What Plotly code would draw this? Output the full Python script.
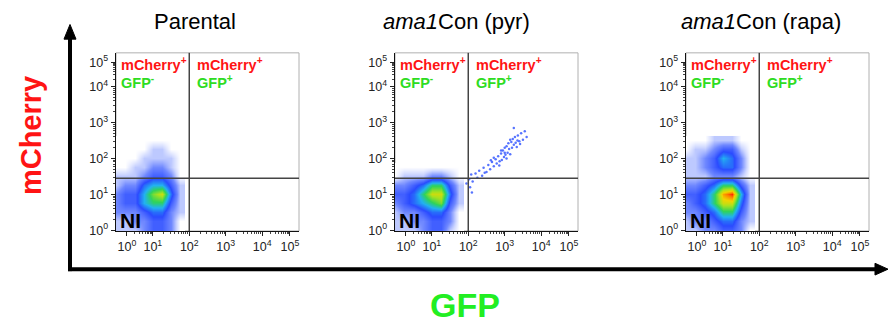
import math
import plotly.graph_objects as go

W, H = 888, 330

# ---------------- data (display units ~ log10 fluorescence) ----------------
panel_titles = ["Parental", "<i>ama1</i>Con (pyr)", "<i>ama1</i>Con (rapa)"]
tick_labels = ["10<sup>0</sup>", "10<sup>1</sup>", "10<sup>2</sup>",
               "10<sup>3</sup>", "10<sup>4</sup>", "10<sup>5</sup>"]
# positions of the decade labels on the (biexponential-like) display scale
gfp_tick_pos = [0.29, 1, 2, 3, 4, 4.76]
mch_tick_pos = [0.0, 1, 2, 3, 4, 4.68]

gfp_gate = 2.0        # 10^2
mcherry_gate = 1.45   # ~28

# density grid (bin centres)
grid_gfp = [0.0, 0.25, 0.5, 0.75, 1.0, 1.25, 1.5, 1.75]
grid_mch_parental = [0.0, 0.25, 0.5, 0.75, 1.0, 1.25, 1.5, 1.75, 2.0, 2.25, 2.5]
grid_mch_pyr = [0.0, 0.25, 0.5, 0.75, 1.0, 1.25, 1.5, 1.75]
grid_mch_rapa = [0.0, 0.25, 0.5, 0.75, 1.0, 1.25, 1.5, 1.75, 2.0, 2.25, 2.5]

density_parental = [
    [1, 1, 1, 2, 3, 3, 2, 0],
    [1, 1, 2, 2, 3, 3, 2, 0],
    [2, 2, 2, 3, 4, 4, 2, 1],
    [2, 3, 3, 5, 6, 6, 3, 1],
    [2, 3, 3, 5, 7, 8, 4, 1],
    [1, 2, 2, 4, 5, 5, 3, 1],
    [1, 1, 1, 2, 3, 3, 2, 0],
    [0, 0, 1, 1, 2, 2, 1, 0],
    [0, 0, 0, 1, 1, 1, 1, 0],
    [0, 0, 0, 0, 1, 1, 0, 0],
    [0, 0, 0, 0, 0, 0, 0, 0],
]
density_pyr = [
    [1, 1, 1, 2, 3, 3, 1, 0],
    [1, 1, 2, 2, 3, 3, 2, 0],
    [1, 2, 2, 3, 4, 4, 2, 0],
    [2, 3, 4, 5, 6, 7, 3, 1],
    [3, 3, 4, 6, 8, 8, 4, 1],
    [2, 2, 3, 4, 6, 6, 3, 1],
    [0, 1, 1, 1, 2, 2, 1, 0],
    [0, 0, 0, 0, 0, 0, 0, 0],
]
density_rapa = [
    [1, 1, 2, 2, 3, 3, 2, 0],
    [1, 2, 2, 3, 4, 4, 2, 1],
    [2, 2, 3, 4, 6, 6, 3, 1],
    [2, 3, 4, 6, 8, 8, 4, 1],
    [3, 3, 4, 6, 9, 10, 5, 1],
    [2, 2, 3, 4, 6, 6, 3, 1],
    [1, 1, 1, 2, 2, 2, 1, 0],
    [1, 1, 2, 3, 4, 4, 2, 0],
    [1, 1, 2, 3, 5, 4, 2, 0],
    [0, 1, 1, 2, 3, 3, 1, 0],
    [0, 0, 0, 1, 1, 1, 0, 0],
]

# sparse double-positive tail in the pyr sample (individual events)
tail_gfp = [2.02, 2.08, 2.12, 2.2, 2.25, 2.3, 2.38, 2.42, 2.5, 2.55, 2.6, 2.65,
            2.7, 2.75, 2.78, 2.82, 2.86, 2.9, 2.92, 2.95, 2.98, 3.0, 3.02, 3.05,
            3.08, 3.1, 3.12, 3.15, 3.18, 3.2, 3.22, 3.25, 3.28, 3.3, 3.33, 3.36,
            3.4, 3.45, 3.5, 3.55, 3.6, 3.25, 2.05, 2.1, 1.95, 3.05, 2.7, 2.85,
            3.15, 3.35, 2.45, 2.9, 3.42, 2.62, 3.0]
tail_mch = [1.42, 1.55, 1.36, 1.58, 1.46, 1.66, 1.52, 1.74, 1.62, 1.82, 1.7, 1.9,
            1.78, 1.98, 1.86, 2.06, 1.92, 2.14, 1.96, 2.22, 2.04, 2.3, 2.1, 2.34,
            2.16, 2.42, 2.26, 2.12, 2.46, 2.3, 2.54, 2.38, 2.6, 2.44, 2.32, 2.64,
            2.48, 2.7, 2.52, 2.76, 2.6, 2.85, 1.2, 1.05, 1.3, 2.0, 2.02, 1.8,
            2.52, 2.5, 1.6, 2.22, 2.4, 1.95, 2.16]

# ---------------- layout geometry ----------------
panel_left = [116, 395, 686]
panel_w = 183
plot_top, plot_bottom = 54, 236

def px(x):
    return x / W

def py(y):
    return 1 - y / H

colorscale = [
    [0.0, "#ffffff"], [0.08, "#cdd6ff"], [0.2, "#6f88ff"], [0.35, "#2a4bff"],
    [0.5, "#22b2f0"], [0.62, "#2fd35a"], [0.75, "#a8e21e"], [0.85, "#f2d400"],
    [0.94, "#ff7a00"], [1.0, "#ff2a00"],
]

fig = go.Figure()

grids = [(grid_mch_parental, density_parental),
         (grid_mch_pyr, density_pyr),
         (grid_mch_rapa, density_rapa)]

for i, (gy, z) in enumerate(grids):
    ax = "" if i == 0 else str(i + 1)
    fig.add_trace(go.Heatmap(
        x=grid_gfp, y=gy, z=z, zmin=0, zmax=10, zsmooth="best",
        colorscale=colorscale, showscale=False, hoverinfo="skip",
        xaxis="x" + ax, yaxis="y" + ax))

fig.add_trace(go.Scatter(
    x=tail_gfp, y=tail_mch, mode="markers",
    marker=dict(size=2.5, color="#3a5cff", opacity=0.85),
    xaxis="x2", yaxis="y2", hoverinfo="skip", showlegend=False))


def minor_positions(major):
    out = []
    for a, b in zip(major[:-1], major[1:]):
        for k in range(2, 10):
            out.append(a + (b - a) * math.log10(k))
    return out


font = "Liberation Sans, Arial"


def axis(tickpos, rng, domain, anchor):
    return dict(
        tickmode="array", tickvals=tickpos, ticktext=tick_labels,
        ticks="outside", ticklen=4, tickwidth=1, tickcolor="#222",
        showline=True, linecolor="#111", linewidth=1.5,
        showgrid=False, zeroline=False,
        tickfont=dict(family=font, size=12.5, color="#222"),
        minor=dict(tickmode="array", tickvals=minor_positions(tickpos),
                   ticks="outside", ticklen=2, tickwidth=1, tickcolor="#444",
                   showgrid=False),
        range=rng, domain=domain, anchor=anchor, fixedrange=True,
    )


layout = dict(
    width=W, height=H, margin=dict(l=0, r=0, t=0, b=0),
    paper_bgcolor="white", plot_bgcolor="white", showlegend=False,
)

shapes = []
annotations = []
red = "#ff1414"
green = "#2edc22"

for i, L in enumerate(panel_left):
    ax = "" if i == 0 else str(i + 1)
    xd = [px(L), px(L + panel_w)]
    yd = [py(plot_bottom), py(plot_top)]
    layout["xaxis" + ax] = axis(gfp_tick_pos, [-0.01, 5.01], xd, "y" + ax)
    layout["yaxis" + ax] = axis(mch_tick_pos, [-0.02, 4.94], yd, "x" + ax)
    # light frame
    shapes.append(dict(type="rect", xref="x%s domain" % ax, yref="y%s domain" % ax,
                       x0=0, x1=1, y0=0, y1=1, line=dict(color="#b0b0b0", width=1),
                       layer="below"))
    # quadrant gates
    shapes.append(dict(type="line", xref="x" + ax, yref="y%s domain" % ax,
                       x0=gfp_gate, x1=gfp_gate, y0=0, y1=1,
                       line=dict(color="#444", width=1.5)))
    shapes.append(dict(type="line", xref="x%s domain" % ax, yref="y" + ax,
                       x0=0, x1=1, y0=mcherry_gate, y1=mcherry_gate,
                       line=dict(color="#444", width=1.5)))
    # quadrant labels
    for dx, sign in [(3, "-"), (79, "+")]:
        annotations.append(dict(x=px(L + dx), y=py(65), xref="paper", yref="paper",
                                xanchor="left", yanchor="middle", showarrow=False,
                                text="<b>mCherry<sup>+</sup></b>",
                                font=dict(family=font, size=14.5, color=red)))
        annotations.append(dict(x=px(L + dx), y=py(84), xref="paper", yref="paper",
                                xanchor="left", yanchor="middle", showarrow=False,
                                text="<b>GFP<sup>%s</sup></b>" % sign,
                                font=dict(family=font, size=14.5, color=green)))
    annotations.append(dict(x=px(L + 2), y=py(225), xref="paper", yref="paper",
                            xanchor="left", yanchor="middle", showarrow=False,
                            text="<b>NI</b>",
                            font=dict(family=font, size=21, color="black")))

title_x = [195, 456, 761]
for t, tx in zip(panel_titles, title_x):
    annotations.append(dict(x=px(tx), y=py(22), xref="paper", yref="paper",
                            xanchor="center", yanchor="middle", showarrow=False,
                            text=t, font=dict(family=font, size=22, color="black")))

annotations.append(dict(x=px(31), y=py(138), xref="paper", yref="paper",
                        xanchor="center", yanchor="middle", showarrow=False,
                        textangle=-90, text="<b>mCherry</b>",
                        font=dict(family=font, size=29, color=red)))
annotations.append(dict(x=px(465), y=py(312), xref="paper", yref="paper",
                        xanchor="center", yanchor="middle", showarrow=False,
                        text="<b>GFP</b>",
                        font=dict(family=font, size=34, color="#22ee22")))

# big axis arrows
shapes.append(dict(type="line", xref="paper", yref="paper",
                   x0=px(70), x1=px(70), y0=py(277), y1=py(36),
                   line=dict(color="black", width=4)))
shapes.append(dict(type="line", xref="paper", yref="paper",
                   x0=px(68), x1=px(878), y0=py(275), y1=py(275),
                   line=dict(color="black", width=4)))
shapes.append(dict(type="path", xref="paper", yref="paper",
                   path="M %f %f L %f %f L %f %f Z" % (px(64), py(40), px(70), py(25), px(76), py(40)),
                   fillcolor="black", line=dict(color="black", width=1)))
shapes.append(dict(type="path", xref="paper", yref="paper",
                   path="M %f %f L %f %f L %f %f Z" % (px(875), py(269), px(888), py(275), px(875), py(281)),
                   fillcolor="black", line=dict(color="black", width=1)))

layout["shapes"] = shapes
layout["annotations"] = annotations
fig.update_layout(**layout)

fig.write_html("out.html", config={"displayModeBar": False, "staticPlot": True},
               post_script="document.body.style.margin='0px';document.body.style.overflow='hidden';")
